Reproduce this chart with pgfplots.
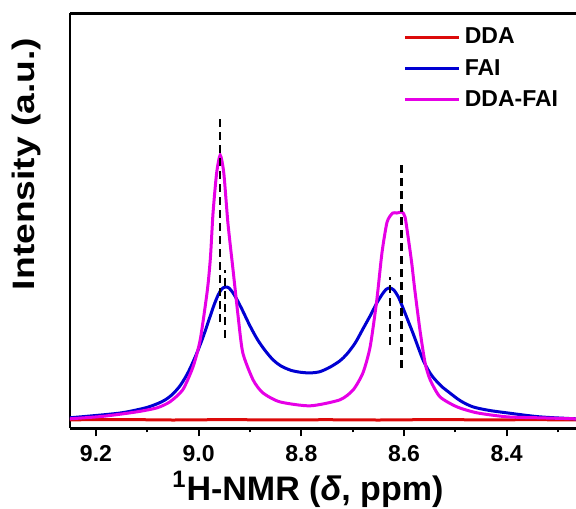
\documentclass[border=0pt]{standalone}
\usepackage{fontspec}
\setmainfont{Liberation Sans}
\usepackage{graphicx}
\usepackage{pgfplots}
\pgfplotsset{compat=1.18}
\definecolor{cRed}{RGB}{220,10,10}
\definecolor{cBlue}{RGB}{0,0,210}
\definecolor{cMag}{RGB}{230,0,230}
\begin{document}
\begin{tikzpicture}
\path[use as bounding box] (-35pt,-40.25pt) rectangle (253pt,214.15pt);
\begin{axis}[
  at={(0,0)}, anchor=south west,
  scale only axis, width=253pt, height=207.5pt,
  x dir=reverse,
  xmin=8.265, xmax=9.2506,
  ymin=-1.5, ymax=414,
  axis x line=box, axis y line*=left,
  axis line style={line width=1.4pt},
  xtick={8.4,8.6,8.8,9.0,9.2},
  minor xtick={8.3,8.5,8.7,8.9,9.1},
  ytick=\empty,
  xtick pos=left,
  tick align=outside,
  major tick length=4pt, minor tick length=2pt,
  every tick/.style={black, line width=1pt},
  /pgf/number format/assume math mode=true,
  xticklabel style={font=\bfseries\fontsize{11.5}{13}\selectfont, yshift=-1pt,
    /pgf/number format/fixed, /pgf/number format/fixed zerofill,
    /pgf/number format/precision=1},
  xlabel={\textsuperscript{1}H-NMR ({\itshape δ}, ppm)},
  ylabel={\scalebox{1.2}[1]{Intensity (a.u.)}},
  xlabel style={at={(rel axis cs:0.47,-0.173)}, anchor=base, font=\bfseries\fontsize{17}{20}\selectfont},
  ylabel style={at={(rel axis cs:-0.0692,0.637)}, anchor=base, font=\bfseries\fontsize{15.5}{18}\selectfont},
  legend style={at={(rel axis cs:0.647,0.985)}, anchor=north west, draw=none, fill=none,
    font=\bfseries\fontsize{11.5}{13}\selectfont, row sep=2.25pt,
    /tikz/every even column/.append style={column sep=2pt}},
  legend cell align=left,
  legend image code/.code={\draw[#1, line width=1.5pt] (0pt,0pt) -- (27pt,0pt);},
]
\addplot[cRed, line width=1.5pt] coordinates {
(9.251,7) (9.15,7.3) (9.05,6.8) (8.95,7.2) (8.85,6.9) (8.75,7.1) (8.65,6.8) (8.55,7.2) (8.45,7) (8.35,7.1) (8.265,7)
};
\addlegendentry{DDA}
\addplot[cBlue, line width=1.5pt, smooth, tension=0.5] coordinates {
(9.251,9) (9.186,12) (9.150,14) (9.120,17) (9.100,19.5) (9.081,23) (9.065,27) (9.050,33)
(9.035,42) (9.020,55) (9.005,72) (8.992,89) (8.980,107) (8.970,122) (8.962,132) (8.955,138)
(8.948,140) (8.941,139) (8.933,134) (8.925,127) (8.915,117) (8.900,101) (8.885,87) (8.870,76)
(8.855,67) (8.840,61) (8.820,56.5) (8.800,54.5) (8.783,54) (8.765,55) (8.745,59.5) (8.725,66)
(8.711,73) (8.695,84) (8.680,98) (8.665,112) (8.653,124) (8.642,133) (8.635,137.5) (8.628,139)
(8.620,137) (8.611,130) (8.602,119) (8.592,106) (8.582,93) (8.572,79) (8.563,67) (8.553,57)
(8.544,50) (8.528,41) (8.511,34) (8.490,26) (8.466,20) (8.435,16.5) (8.400,14) (8.336,10) (8.265,8)
};
\addlegendentry{FAI}
\addplot[cMag, line width=1.5pt, smooth, tension=0.4] coordinates {
(9.251,8) (9.186,10.5) (9.120,15) (9.081,19) (9.056,25) (9.031,37) (9.011,60) (8.997,87)
(8.983,137) (8.977,170) (8.972,214) (8.965,254) (8.958,272) (8.951,254) (8.943,204)
(8.933,157) (8.923,110) (8.914,74) (8.894,47) (8.875,34) (8.842,25) (8.783,21)
(8.725,27) (8.699,37) (8.680,54) (8.666,80) (8.653,127) (8.643,174) (8.633,205)
(8.622,214) (8.614,214) (8.604,215) (8.598,210) (8.592,190) (8.585,164) (8.579,137)
(8.569,97) (8.559,64) (8.549,47) (8.530,30) (8.497,20) (8.458,14) (8.400,10) (8.336,9) (8.265,8)
};
\addlegendentry{DDA-FAI}
\addplot[black, line width=1.1pt, dash pattern=on 4pt off 2.5pt, forget plot] coordinates {(8.958,105) (8.958,312)};
\addplot[black, line width=1.1pt, dash pattern=on 4pt off 2.5pt, forget plot] coordinates {(8.948,89) (8.948,157)};
\addplot[black, line width=1.1pt, dash pattern=on 4pt off 2.5pt, forget plot] coordinates {(8.627,82) (8.627,150)};
\addplot[black, line width=1.1pt, dash pattern=on 4pt off 2.5pt, forget plot] coordinates {(8.605,59) (8.605,265)};
\end{axis}
\end{tikzpicture}
\end{document}
